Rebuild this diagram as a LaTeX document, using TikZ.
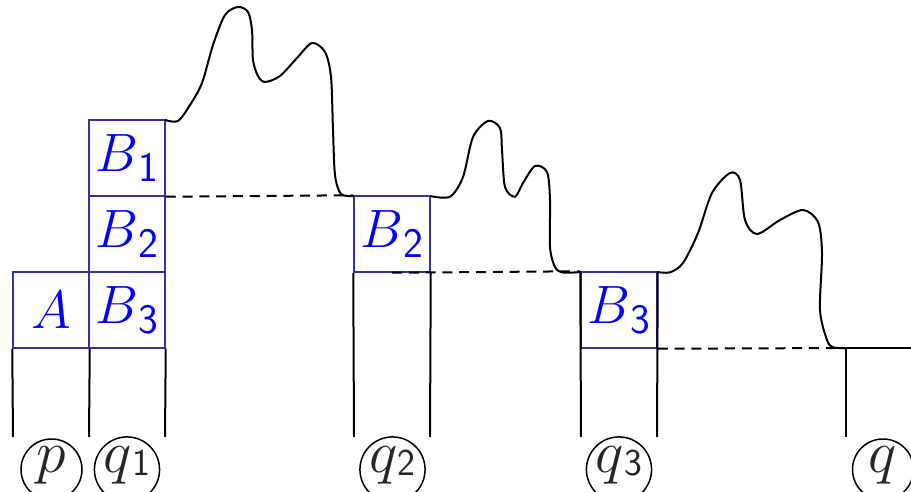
\RequirePackage{fix-cm}
\documentclass[tikz,border=0pt]{standalone}
\definecolor{boxline}{RGB}{51,51,160}
\definecolor{labblue}{RGB}{0,0,255}
\newcommand\bsub[2]{$#1$\raisebox{-5pt}{\fontsize{21}{21}\selectfont\sffamily #2}}
\newcommand\qsub[2]{$#1$\raisebox{-1.3pt}{\fontsize{19}{19}\selectfont\sffamily #2}}
\begin{document}
\begin{tikzpicture}[x=0.5pt,y=-0.5pt,
  cell/.style={draw=boxline,line width=0.75pt,minimum width=38pt,minimum height=38pt,inner sep=0pt,text=labblue,font=\fontsize{27}{30}\selectfont},
  state/.style={draw=black,circle,line width=0.75pt,minimum size=30.5pt,inner sep=0pt,text=black!85,font=\fontsize{30}{32}\selectfont,text height=13pt,text depth=10pt},
  wire/.style={line width=1pt,black},
  dline/.style={line width=1pt,black,dash pattern=on 5pt off 3.4pt},
  wave/.style={line width=1pt,black,smooth,tension=0.5}]
\useasboundingbox (0,0) rectangle (911,492);
% boxes
\node[cell] (A) at (51,310) {$A$};
\node[cell] (B1) at (127,158) {\bsub{B}{1}};
\node[cell] (B2) at (127,234) {\bsub{B}{2}};
\node[cell] (B3) at (127,310) {\bsub{B}{3}};
\node[cell] (C2) at (392,234) {\bsub{B}{2}};
\node[cell] (D3) at (619,310) {\bsub{B}{3}};
% states
\node[state] (p) at (51.5,469.5) {$p$};
\node[state] (q1) at (127,469.5) {\qsub{q}{1}};
\node[state] (q2) at (392.5,469.5) {\qsub{q}{2}};
\node[state] (q3) at (619,469.5) {\qsub{q}{3}};
\node[state] (q) at (883,469.5) {$q$};
% line ends
\coordinate (e1) at (13,437);
\coordinate (e2) at (89,437);
\coordinate (e3) at (165,437);
\coordinate (e4) at (354,437);
\coordinate (e5) at (430,437);
\coordinate (e6) at (581,437);
\coordinate (e7) at (657,437);
\coordinate (qtop) at (846,348);
\coordinate (qbot) at (846,437);
\coordinate (qend) at (911,348);
% vertical wires
\draw[wire] (A.south west) -- (e1);
\draw[wire] (A.south east) -- (e2);
\draw[wire] (B3.south east) -- (e3);
\draw[wire] (C2.south west) -- (e4);
\draw[wire] (C2.south east) -- (e5);
\draw[wire] (D3.north west) -- (e6);
\draw[wire] (D3.north east) -- (e7);
\draw[wire] (qtop) -- (qbot);
% dashed levels
\draw[dline] (B1.south east) -- (C2.north west);
\draw[dline] (C2.south) -- (D3.north west);
\draw[dline] (D3.south east) -- (qtop);
% waves
\draw[wave] plot coordinates {(165,120) (178,121) (190,105) (202,83) (213,45) (225,15) (238,7) (248,12) (252,30) (253,60) (258,76) (265,82) (280,76) (297,58) (312,43) (325,52) (331,77) (333,130) (335,175) (341,194) (354,196)};
\draw[wave] plot coordinates {(430,196) (450,196.7) (463,177) (473,137) (488,121) (500,128) (502,150) (505,187) (515,196.7) (523,183) (535,166) (547,172) (550,200) (550,247) (555,267) (563,272.5) (581,272)};
\draw[wave] plot coordinates {(657,272) (670,272.3) (683,263) (698,233) (712,193) (730,173) (740,180) (745,220) (757,234) (780,220) (803,210) (818,222) (822,253) (820,310) (827,340) (833,347.3) (846,348)};
\draw[wire] (qtop) -- (qend);
\end{tikzpicture}
\end{document}
